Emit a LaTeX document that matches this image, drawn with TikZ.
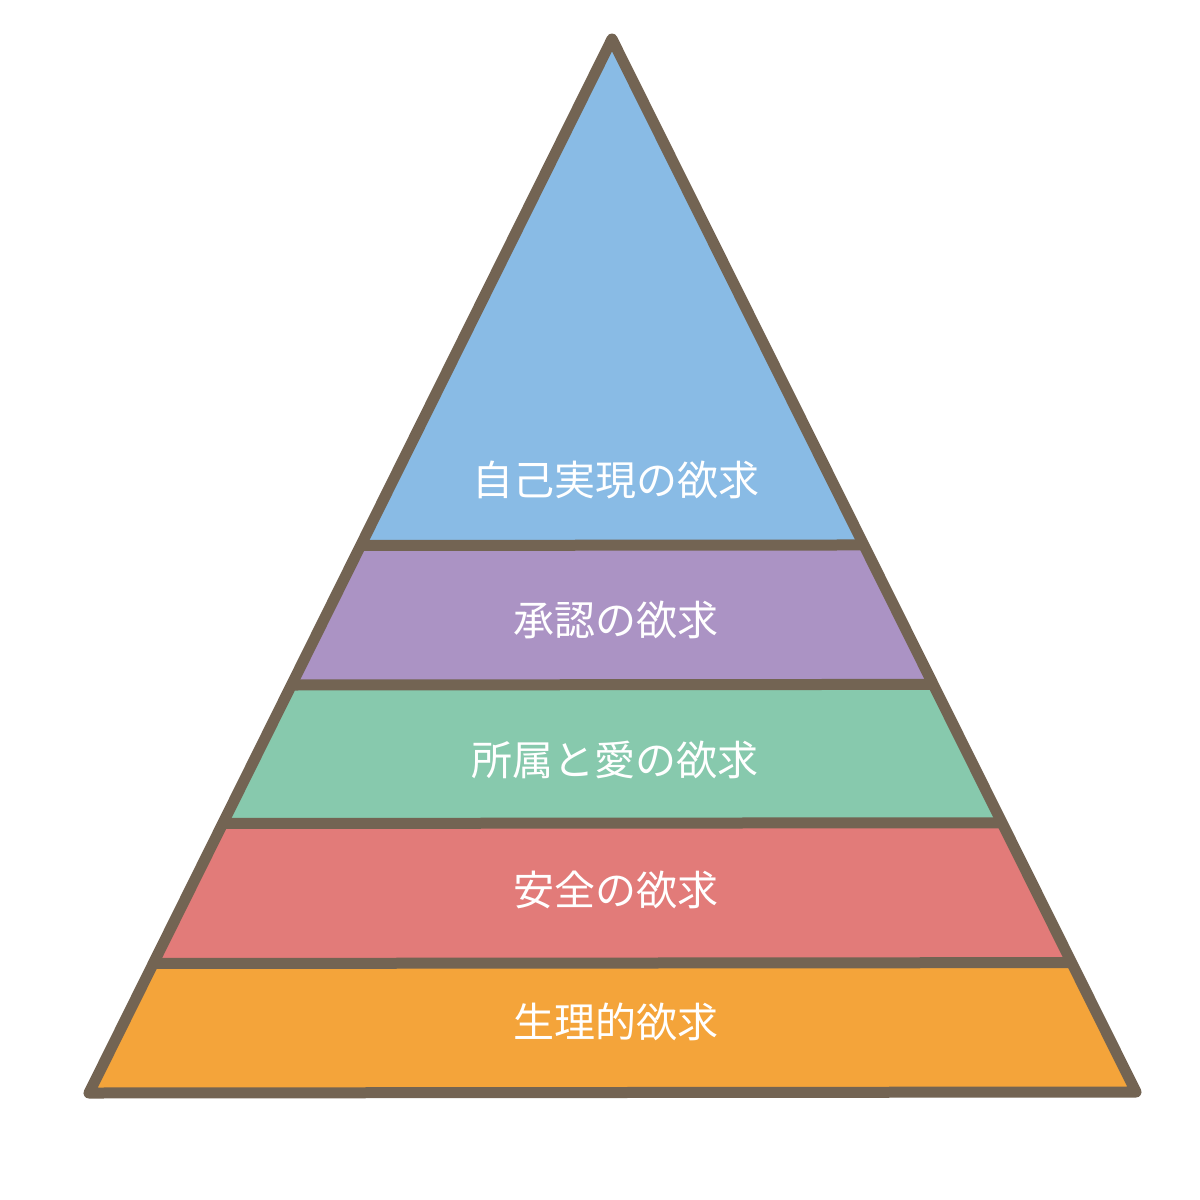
\documentclass[tikz,border=0pt]{standalone}
\usepackage{fontspec}
\newfontfamily\jpfont{Noto Sans CJK JP}
\usetikzlibrary{calc}
\definecolor{outlinec}{RGB}{115,100,83}
\definecolor{cblue}{RGB}{137,187,229}
\definecolor{cpurple}{RGB}{171,147,196}
\definecolor{cgreen}{RGB}{135,201,173}
\definecolor{cred}{RGB}{226,123,121}
\definecolor{corange}{RGB}{244,164,58}
\begin{document}
\begin{tikzpicture}[x=1pt,y=-1pt,
  lbl/.style={text=white,font=\jpfont\fontsize{41}{48}\selectfont,inner sep=0pt},
  edge/.style={draw=outlinec,line width=11pt,line join=round,line cap=round}]
\useasboundingbox (0,0) rectangle (1200,1200);
\coordinate (A) at (612,39);
\coordinate (BL) at (89,1093);
\coordinate (BR) at (1136,1092);
\foreach \n/\t in {1/0.4805,2/0.6129,3/0.7443,4/0.8771}{
  \coordinate (L\n) at ($(A)!\t!(BL)$);
  \coordinate (R\n) at ($(A)!\t!(BR)$);
}
\fill[cblue] (A) -- (L1) -- (R1) -- cycle;
\fill[cpurple] (L1) -- (L2) -- (R2) -- (R1) -- cycle;
\fill[cgreen] (L2) -- (L3) -- (R3) -- (R2) -- cycle;
\fill[cred] (L3) -- (L4) -- (R4) -- (R3) -- cycle;
\fill[corange] (L4) -- (BL) -- (BR) -- (R4) -- cycle;
\foreach \n in {1,2,3,4}{
  \draw[edge,line cap=butt] (L\n) -- (R\n);
}
\draw[edge] (A) -- (BL) -- (BR) -- cycle;
\node[lbl] (t1) at (616,480) {自己実現の欲求};
\node[lbl] (t2) at (616,620) {承認の欲求};
\node[lbl] (t3) at (615,760) {所属と愛の欲求};
\node[lbl] (t4) at (616,890) {安全の欲求};
\node[lbl] (t5) at (616,1022) {生理的欲求};
\end{tikzpicture}
\end{document}
